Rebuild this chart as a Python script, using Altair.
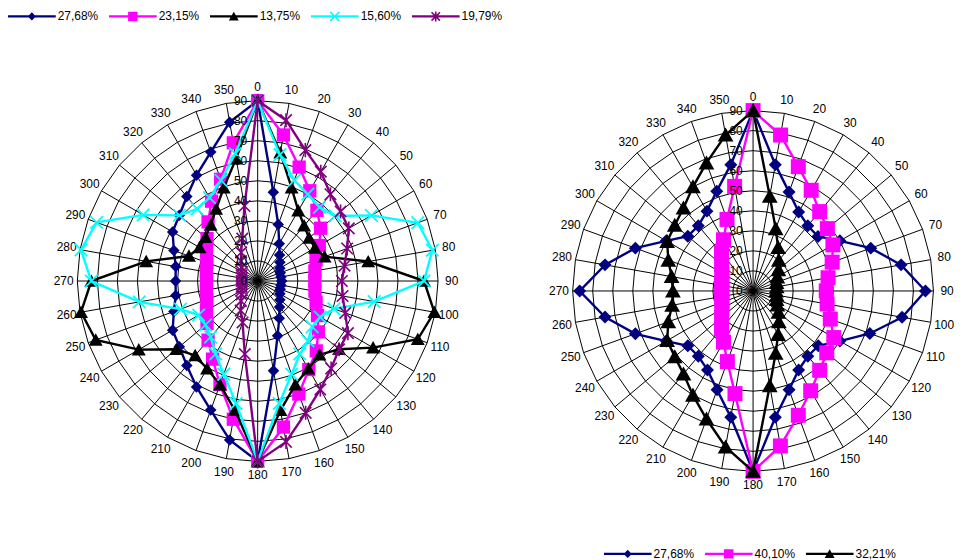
import math
import pandas as pd
import altair as alt

# ---------------- data ----------------
angles = list(range(0, 360, 10))
angle_labels = [str(a) for a in angles]
ring_values = [10, 20, 30, 40, 50, 60, 70, 80, 90]
value_labels = [0, 10, 20, 30, 40, 50, 60, 70, 80, 90]

left_labels = ["27,68%", "23,15%", "13,75%", "15,60%", "19,79%"]
left_colors = ["#000080", "#FF00FF", "#000000", "#00FFFF", "#800080"]
left_navy = [90, 45, 30, 21.5, 17, 14.5, 12.8, 12, 11.8, 12, 11.8, 12, 12.8, 14.5, 17, 21.5, 29, 45.5,
             90, 80.5, 68.5, 61, 55, 51, 49, 44.5, 41.5, 41, 41.5, 44.5, 49, 51, 55, 61, 68.5, 80.5]
left_magenta = [90, 74, 60.5, 52, 46, 41, 35.5, 31, 29, 28.5, 29, 31, 34.5, 39.5, 45.5, 51, 60, 74,
                90, 70, 55, 45, 38.5, 33, 29.5, 27, 26, 25.5, 26, 27, 29.5, 33, 38.5, 46, 54, 70]
left_black = [90, 65, 49.5, 40.5, 36, 33.5, 33, 35.5, 56, 83, 89.5, 85, 66.5, 53, 48, 50.5, 55, 65.5,
              90, 65.5, 55, 50.5, 48.5, 53, 68.5, 86, 89.5, 83, 56.5, 36.5, 33.5, 34, 36.5, 41.5, 49.5, 62]
left_cyan = [90, 64, 53.5, 50, 48, 50.5, 65.5, 85, 88.5, 83, 59, 40.5, 36, 35.5, 39, 42, 49.5, 62,
             90, 62, 49.5, 42, 36.5, 34, 34, 41, 60, 83, 89.5, 85.5, 66, 51, 47, 48, 53.5, 64.5]
left_purple = [90, 81.5, 69.5, 63, 56.5, 54, 52.5, 47.5, 44, 42, 43, 46.5, 52, 53, 57, 62.5, 70, 81.5,
               90, 37, 22, 17, 13, 10.5, 9, 8.5, 8, 8, 8, 8.5, 9, 10.5, 13, 16.5, 22.5, 38]

right_labels = ["27,68%", "40,10%", "32,21%"]
right_colors = ["#000080", "#FF00FF", "#000000"]
right_navy = [90, 64, 52.5, 45.5, 42.5, 42.3, 50, 62.5, 75, 86, 75.5, 62, 50, 42.5, 42.5, 45.5, 52.5, 64,
              90, 64, 52.5, 45.5, 42.5, 42.5, 50, 62.5, 75, 86.5, 75, 62.5, 50, 42.5, 42.5, 46, 53, 64]
right_magenta = [90, 79, 66, 58, 51.7, 48.4, 46, 42, 38, 36.5, 37.5, 41, 46.5, 48, 51.7, 57.5, 66, 78.5,
                 90, 52, 37.5, 29.5, 24.5, 20.5, 18, 16.5, 16, 15.5, 16, 16.5, 18, 20.5, 24.5, 29.5, 38, 53]
right_black = [90, 48, 33, 25, 20, 16.5, 14, 12.5, 12, 11.5, 12, 12.5, 14, 16.5, 20, 25, 33, 48,
               90, 79, 68, 60, 54, 51, 49.5, 45, 41, 40, 41.3, 45, 49.5, 51, 54, 60, 68, 79]

FONT = "Liberation Sans"


# ---------------- marker shapes (style only) ----------------
def oriented(pts):
    area = sum(pts[i][0] * pts[(i + 1) % len(pts)][1] - pts[(i + 1) % len(pts)][0] * pts[i][1]
               for i in range(len(pts)))
    return pts if area > 0 else pts[::-1]


def poly(pts, f=1.0):
    pts = oriented([(x * f, y * f) for x, y in pts])
    return "M" + "L".join(f"{x:.4f},{y:.4f}" for x, y in pts) + "Z"


def diamond(h):
    return [(0, -h), (h, 0), (0, h), (-h, 0)]


def square(h):
    return [(-h, -h), (h, -h), (h, h), (-h, h)]


def triangle(h):
    return [(0, -h), (h * 1.05, h * 0.87), (-h * 1.05, h * 0.87)]


def xcross(L, t):
    plus = [(t, L), (t, t), (L, t), (L, -t), (t, -t), (t, -L), (-t, -L), (-t, -t),
            (-L, -t), (-L, t), (-t, t), (-t, L)]
    c = math.sqrt(0.5)
    return [((x - y) * c, (x + y) * c) for x, y in plus]


def vbar(L, t):
    return [(-t, -L), (t, -L), (t, L), (-t, L)]


main_paths = {
    "diamond": poly(diamond(0.78)),
    "square": poly(square(0.9)),
    "triangle": poly(triangle(0.9)),
    "x": poly(xcross(1.2, 0.12)),
    "star": poly(xcross(1.1, 0.11)) + poly(vbar(0.95, 0.11)),
}
LF = 0.22
line_rect = poly([(-1, -0.045), (1, -0.045), (1, 0.045), (-1, 0.045)])
legend_paths = {
    "diamond": line_rect + poly(diamond(0.78), LF),
    "square": line_rect + poly(square(0.9), LF),
    "triangle": line_rect + poly(triangle(0.9), LF),
    "x": line_rect + poly(xcross(0.27, 0.035)),
    "star": line_rect + poly(xcross(0.25, 0.033)) + poly(vbar(0.21, 0.033)),
}


def series_frame(labels, values_list):
    rows = []
    for lab, vals in zip(labels, values_list):
        for i in range(37):
            rows.append({"series": lab, "order": i, "a": 10 * i, "v": vals[i % 36]})
    return pd.DataFrame(rows)


ring_df = pd.DataFrame([{"ring": r, "order": i, "a": 10 * i, "v": r}
                        for r in ring_values for i in range(37)])
spoke_df = pd.DataFrame({"a": angles, "v": [ring_values[-1]] * len(angles)})
alab_df = pd.DataFrame({"a": angles, "label": angle_labels})
vlab_df = pd.DataFrame({"v": value_labels, "label": [str(v) for v in value_labels]})

POLAR = dict(px="datum.v*sin(datum.a*PI/180)", py="datum.v*cos(datum.a*PI/180)")


def panel(labels, colors, shapes, values_list, xdom, ydom, msize, lx, ly, W, H):
    sx = alt.Scale(domain=xdom, nice=False, zero=False)
    sy = alt.Scale(domain=ydom, nice=False, zero=False)
    X = alt.X("px:Q", scale=sx, axis=None)
    Y = alt.Y("py:Q", scale=sy, axis=None)

    rings = alt.Chart(ring_df).transform_calculate(**POLAR).mark_line(
        color="black", strokeWidth=1).encode(x=X, y=Y, detail="ring:N", order="order:Q")
    spokes = alt.Chart(spoke_df).transform_calculate(
        x0="0", y0="0", **POLAR).mark_rule(color="black", strokeWidth=1).encode(
        x=alt.X("x0:Q", scale=sx, axis=None), y=alt.Y("y0:Q", scale=sy, axis=None),
        x2="px:Q", y2="py:Q")
    alabels = alt.Chart(alab_df).transform_calculate(
        px="96.8*sin(datum.a*PI/180)", py="96.8*cos(datum.a*PI/180)").mark_text(
        font=FONT, fontSize=12, color="black", align="center", baseline="middle").encode(
        x=X, y=Y, text="label:N")
    vlabels = alt.Chart(vlab_df).transform_calculate(px="-5.2", py="datum.v").mark_text(
        font=FONT, fontSize=12, color="black", align="right", baseline="middle").encode(
        x=X, y=Y, text="label:N")

    sdf = series_frame(labels, values_list)
    layers = [rings, spokes, alabels]
    for lab, col, shp in zip(labels, colors, shapes):
        base = alt.Chart(sdf).transform_filter(alt.datum.series == lab).transform_calculate(**POLAR)
        layers.append(base.mark_line(color=col, strokeWidth=2.4).encode(x=X, y=Y, order="order:Q"))
        layers.append(base.transform_filter("datum.order < 36").mark_point(
            shape=main_paths[shp], filled=True, color=col, size=msize, opacity=1,
            strokeWidth=0).encode(x=X, y=Y))
    layers.append(vlabels)

    leg = alt.Legend(orient="none", legendX=lx, legendY=ly, direction="horizontal",
                     columns=len(labels), title=None, symbolSize=2304, symbolStrokeWidth=0,
                     labelFont=FONT, labelFontSize=12, labelColor="black", labelOffset=2,
                     columnPadding=10.5, padding=0, symbolOpacity=1, clipHeight=14)
    legend_layer = alt.Chart(pd.DataFrame({"series": labels})).transform_filter("false").mark_point(
        filled=True, size=2304, opacity=1, strokeWidth=0).encode(
        color=alt.Color("series:N", scale=alt.Scale(domain=labels, range=colors), legend=leg),
        shape=alt.Shape("series:N", scale=alt.Scale(domain=labels,
                                                    range=[legend_paths[s] for s in shapes]),
                        legend=leg))
    layers.append(legend_layer)
    return alt.layer(*layers).properties(width=W, height=H)


K = 544 / 270.0
left = panel(left_labels, left_colors, ["diamond", "square", "triangle", "x", "star"],
             [left_navy, left_magenta, left_black, left_cyan, left_purple],
             [-251 / K, 229 / K], [-272 / K, 272 / K], 220, 0, -1.0, 480, 544)
right = panel(right_labels, right_colors, ["diamond", "square", "triangle"],
              [right_navy, right_magenta, right_black],
              [-269 / K, 198 / K], [-262 / K, 282 / K], 280, 119, 539.3, 467, 544)

chart = alt.hconcat(left, right, spacing=0, bounds="flush").resolve_scale(
    color="independent", shape="independent").resolve_legend(
    color="independent", shape="independent").properties(
    padding=0).configure_view(strokeWidth=0)

chart.save("out.html", embed_options={"renderer": "svg", "actions": False})
